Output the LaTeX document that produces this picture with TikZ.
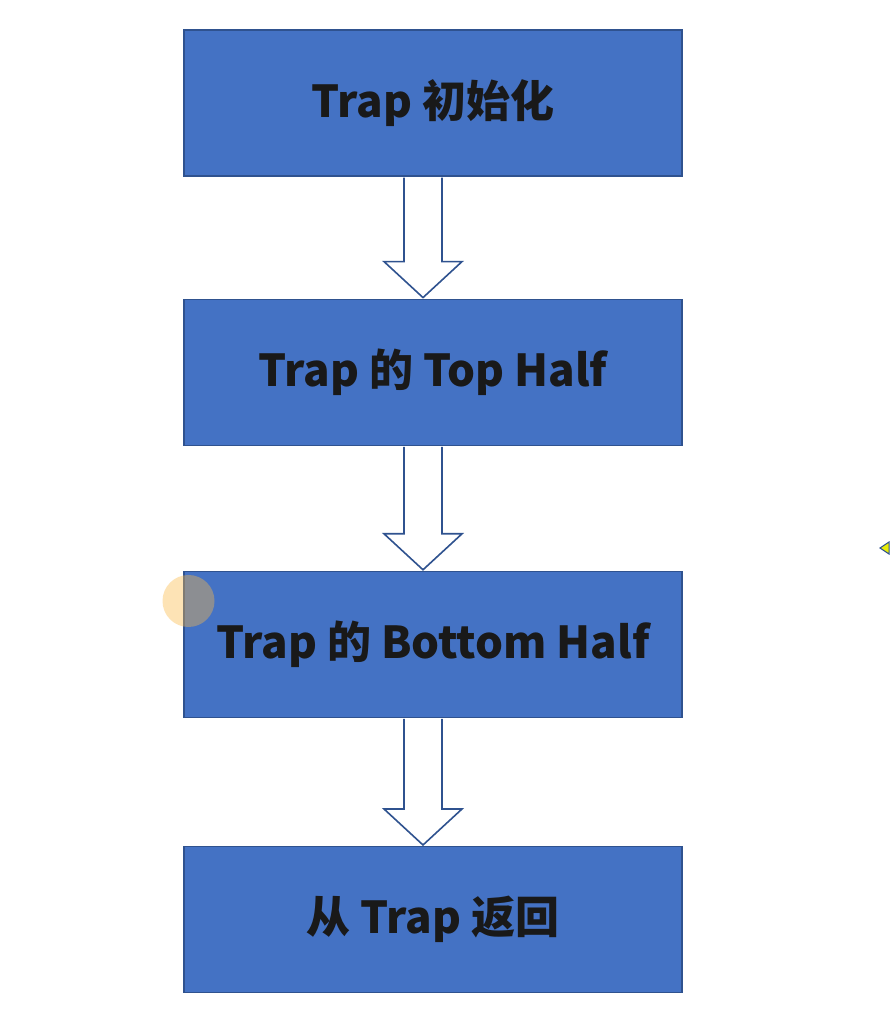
\documentclass[tikz,border=0pt]{standalone}
\usepackage{fontspec}
\newfontfamily\boxfont{Noto Sans CJK SC}
\usetikzlibrary{calc}
\usetikzlibrary{positioning}

\definecolor{boxblue}{HTML}{4472C4}
\definecolor{edgeblue}{HTML}{2F528F}
\definecolor{spotorange}{RGB}{250,185,72}

\tikzset{
  stepbox/.style = {draw = edgeblue, line width = 1.2pt, fill = boxblue,
    minimum width = 498pt, minimum height = 146pt, inner sep = 0pt,
    font = \boxfont\bfseries\fontsize{44}{52}\selectfont, text = black!90},
  hollow/.style = {draw = edgeblue, line width = 1.6pt, fill = white,
    line join = miter}
}

% hollow block arrow from the bottom of #1 to the top of #2
\newcommand{\hollowdown}[2]{%
  \filldraw[hollow] ($(#1.south)+(-29, -1)$) -- ($(#2.north)+(-29, 37)$)
    -- ($(#2.north)+(-49, 37)$) -- ($(#2.north)+(-10, 1)$)
    -- ($(#2.north)+(29, 37)$) -- ($(#2.north)+(9, 37)$)
    -- ($(#1.south)+(9, -1)$);}

\begin{document}
\begin{tikzpicture}[x = 1pt, y = 1pt]
  \useasboundingbox[fill = white] (0, 0) rectangle (889, 1027);

  \node[stepbox] (init) at (433, 924) {Trap 初始化};
  \node[stepbox, below = 122pt of init] (tophalf) {Trap 的 Top Half};
  \node[stepbox, below = 125pt of tophalf] (bothalf) {Trap 的 Bottom Half};
  \node[stepbox, below = 128pt of bothalf] (ret) {从 Trap 返回};

  \hollowdown{init}{tophalf}
  \hollowdown{tophalf}{bothalf}
  \hollowdown{bothalf}{ret}

  % pointer spot and cursor edge
  \fill[spotorange, opacity = .4] (188.5, 426) circle[radius = 26];
  \filldraw[fill = yellow!90!green, draw = edgeblue, line width = 1pt]
    (880, 479) -- (889, 485) -- (889, 473) -- cycle;
\end{tikzpicture}
\end{document}
